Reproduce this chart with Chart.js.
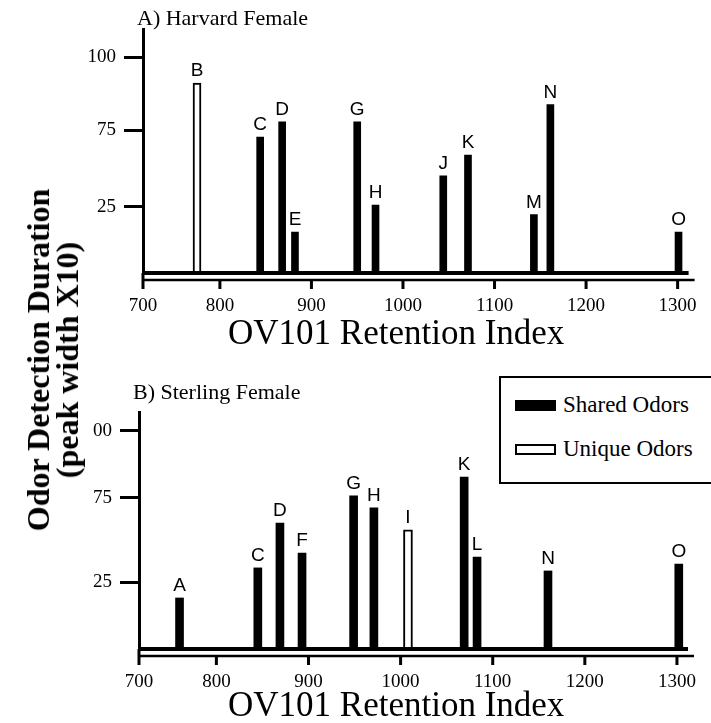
<!DOCTYPE html>
<html>
<head>
<meta charset="utf-8">
<script src="https://cdn.jsdelivr.net/npm/chart.js@4.4.1/dist/chart.umd.min.js"></script>
<style>
  body { margin: 0; background: #fff; }
  #fig { position: relative; width: 711px; height: 723px; background: #fff; overflow: hidden; }
  #fig canvas { position: absolute; left: 0; }
  .txt { position: absolute; font-family: 'Liberation Serif', 'Times New Roman', serif; color: #000; white-space: nowrap; }
  .panel-title { font-size: 22px; line-height: 22px; }
  .x-title { font-size: 35px; line-height: 35px; }
  #yTitle { left: 53px; top: 360px; font-size: 32px; line-height: 29px; font-weight: bold; text-align: center;
            transform: translate(-50%, -50%) rotate(-90deg); }
  #legend-container { position: absolute; left: 499px; top: 376px; width: 208px; height: 88px;
                      border: 2px solid #000; background: #fff; padding: 16px 0 0 14px; box-sizing: content-box; }
  #legend-container ul { list-style: none; margin: 0; padding: 0; }
</style>
</head>
<body>
<div id="fig">
  <canvas id="chartTop" width="711" height="360" style="top:0"></canvas>
  <canvas id="chartBottom" width="711" height="363" style="top:360px"></canvas>
  <div class="txt panel-title" style="left:137px;top:7px">A) Harvard Female</div>
  <div class="txt panel-title" style="left:133px;top:381px">B) Sterling Female</div>
  <div class="txt x-title" style="left:228px;top:315px">OV101 Retention Index</div>
  <div class="txt x-title" style="left:228px;top:687px">OV101 Retention Index</div>
  <div class="txt" id="yTitle">Odor Detection Duration<br>(peak width X10)</div>
  <div id="legend-container"></div>
</div>
<script>
// x axis: retention index tick labels
const xTickLabels = [700, 800, 900, 1000, 1100, 1200, 1300];

// A) Harvard Female
const topSharedLetters = ['C', 'D', 'E', 'G', 'H', 'J', 'K', 'M', 'N', 'O'];
const topSharedRI = [844, 868, 882, 950, 970, 1044, 1071, 1143, 1161, 1301];
const topSharedDur = [63, 70, 19, 70, 31.5, 45, 54.6, 27, 78, 19];
const topUniqueLetters = ['B'];
const topUniqueRI = [775];
const topUniqueDur = [88];
const topYTicks = [30.6, 66.2, 100];
const topYLabels = ['25', '75', '100'];

// B) Sterling Female
const botSharedLetters = ['A', 'C', 'D', 'F', 'G', 'H', 'K', 'L', 'N', 'O'];
const botSharedRI = [760, 845, 869, 893, 949, 971, 1069, 1083, 1160, 1302];
const botSharedDur = [23.4, 37.2, 57.8, 44, 70.2, 64.7, 78.9, 42.2, 35.8, 39];
const botUniqueLetters = ['I'];
const botUniqueRI = [1008];
const botUniqueDur = [54.6];
const botYTicks = [30.7, 69.3, 100];
const botYLabels = ['25', '75', '00'];

Chart.defaults.font.family = "'Liberation Serif', 'Times New Roman', serif";
Chart.defaults.color = '#000';

function puntos(ri, dur) {
  return ri.map((x, i) => ({x: x, y: dur[i]}));
}

// double base line + x tick marks, drawn over the bars
const baseLinePlugin = {
  id: 'baseLine',
  afterDatasetsDraw(chart) {
    const {ctx, chartArea} = chart;
    const xs = chart.scales.x;
    const b = chartArea.bottom;
    ctx.save();
    ctx.strokeStyle = '#000';
    ctx.lineWidth = 4;
    ctx.beginPath();
    ctx.moveTo(chartArea.left, b);
    ctx.lineTo(chartArea.right, b);
    ctx.stroke();
    ctx.lineWidth = 2.5;
    ctx.beginPath();
    ctx.moveTo(chartArea.left, b + 7);
    ctx.lineTo(chartArea.right + 6, b + 7);
    ctx.stroke();
    ctx.lineWidth = 3;
    ctx.beginPath();
    ctx.moveTo(chartArea.left, b);
    ctx.lineTo(chartArea.left, b + 16);
    xs.ticks.forEach(t => {
      const px = xs.getPixelForValue(t.value);
      ctx.moveTo(px, b + 7);
      ctx.lineTo(px, b + 16);
    });
    ctx.stroke();
    ctx.restore();
  }
};

// letters above each bar
const letterPlugin = {
  id: 'letters',
  afterDatasetsDraw(chart) {
    const ctx = chart.ctx;
    ctx.save();
    ctx.font = "19px 'Liberation Sans', Arial, sans-serif";
    ctx.fillStyle = '#000';
    ctx.textAlign = 'center';
    ctx.textBaseline = 'alphabetic';
    chart.data.datasets.forEach((ds, di) => {
      chart.getDatasetMeta(di).data.forEach((bar, i) => {
        ctx.fillText(ds.letters[i], bar.x, bar.y - 7);
      });
    });
    ctx.restore();
  }
};

const getOrCreateLegendList = (id) => {
  const legendContainer = document.getElementById(id);
  let listContainer = legendContainer.querySelector('ul');
  if (!listContainer) {
    listContainer = document.createElement('ul');
    legendContainer.appendChild(listContainer);
  }
  return listContainer;
};

const htmlLegendPlugin = {
  id: 'htmlLegend',
  afterUpdate(chart, args, options) {
    const ul = getOrCreateLegendList(options.containerID);
    while (ul.firstChild) {
      ul.firstChild.remove();
    }
    const items = chart.options.plugins.legend.labels.generateLabels(chart);
    items.forEach((item, i) => {
      const li = document.createElement('li');
      li.style.display = 'flex';
      li.style.alignItems = 'center';
      li.style.height = '22px';
      li.style.marginTop = i ? '22px' : '0';

      const boxSpan = document.createElement('span');
      boxSpan.style.display = 'inline-block';
      boxSpan.style.boxSizing = 'border-box';
      boxSpan.style.background = item.fillStyle;
      boxSpan.style.border = item.lineWidth ? '2.5px solid ' + item.strokeStyle : 'none';
      boxSpan.style.width = '41px';
      boxSpan.style.height = '11px';
      boxSpan.style.marginRight = '7px';

      const textContainer = document.createElement('span');
      textContainer.style.fontFamily = "'Liberation Serif', 'Times New Roman', serif";
      textContainer.style.fontSize = '23px';
      textContainer.style.color = '#000';
      textContainer.appendChild(document.createTextNode(item.text));

      li.appendChild(boxSpan);
      li.appendChild(textContainer);
      ul.appendChild(li);
    });
  }
};

function opciones(cfg) {
  return {
    responsive: false,
    animation: false,
    layout: {padding: {left: 0, top: cfg.top, right: cfg.right, bottom: 0}},
    scales: {
      x: {
        type: 'linear',
        min: 716,
        max: 1312,
        offset: false,
        grid: {display: false},
        border: {display: false},
        afterBuildTicks: (scale) => {
          scale.ticks = xTickLabels.map(v => ({value: Math.max(v, scale.min)}));
        },
        afterFit: (scale) => { scale.height = cfg.xHeight; },
        ticks: {
          autoSkip: false,
          maxRotation: 0,
          padding: 14,
          font: {size: 19},
          callback: (v, i) => String(xTickLabels[i])
        }
      },
      y: {
        min: 0,
        max: cfg.yMax,
        grid: {display: true, drawOnChartArea: false, color: '#000', lineWidth: 3, tickLength: 19},
        border: {display: true, color: '#000', width: 3},
        afterBuildTicks: (scale) => {
          scale.ticks = cfg.yTicks.map(v => ({value: v}));
        },
        afterFit: (scale) => { scale.width = cfg.left; },
        ticks: {
          padding: 8,
          font: {size: 19},
          callback: (v, i) => cfg.yLabels[i]
        }
      }
    },
    plugins: {
      legend: {display: false},
      tooltip: {enabled: false},
      htmlLegend: {containerID: cfg.legendID}
    }
  };
}

function datos(sRI, sDur, sLet, uRI, uDur, uLet, thick) {
  return {
    datasets: [{
      label: 'Shared Odors',
      data: puntos(sRI, sDur),
      letters: sLet,
      backgroundColor: '#000',
      borderColor: '#000',
      borderWidth: 0,
      barThickness: thick,
      grouped: false
    }, {
      label: 'Unique Odors',
      data: puntos(uRI, uDur),
      letters: uLet,
      backgroundColor: '#fff',
      borderColor: '#000',
      borderWidth: 2,
      barThickness: thick + 1,
      grouped: false
    }]
  };
}

const chartTop = new Chart(document.getElementById('chartTop'), {
  type: 'bar',
  data: datos(topSharedRI, topSharedDur, topSharedLetters, topUniqueRI, topUniqueDur, topUniqueLetters, 7),
  options: opciones({top: 29, right: 19, left: 143, xHeight: 87, yMax: 113, yTicks: topYTicks, yLabels: topYLabels}),
  plugins: [baseLinePlugin, letterPlugin]
});

const chartBottom = new Chart(document.getElementById('chartBottom'), {
  type: 'bar',
  data: datos(botSharedRI, botSharedDur, botSharedLetters, botUniqueRI, botUniqueDur, botUniqueLetters, 8),
  options: opciones({top: 52, right: 23, left: 139, xHeight: 74, yMax: 108.7, yTicks: botYTicks, yLabels: botYLabels, legendID: 'legend-container'}),
  plugins: [baseLinePlugin, letterPlugin, htmlLegendPlugin]
});
</script>
</body>
</html>
